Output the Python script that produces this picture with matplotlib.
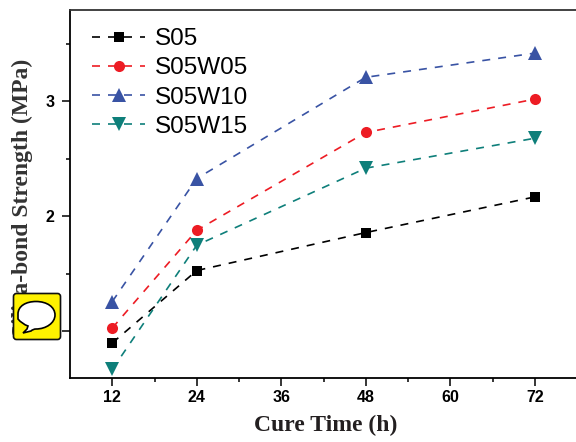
import matplotlib
matplotlib.use('Agg')
import matplotlib.pyplot as plt
from matplotlib.patches import FancyBboxPatch, PathPatch
from matplotlib.path import Path

time = [12, 24, 48, 72]
s05 = [0.90, 1.53, 1.86, 2.17]
s05w05 = [1.03, 1.88, 2.73, 3.02]
s05w10 = [1.26, 2.33, 3.21, 3.42]
s05w15 = [0.67, 1.75, 2.42, 2.68]

labels = ['S05', 'S05W05', 'S05W10', 'S05W15']
colors = ['#000000', '#ed1c24', '#3953a4', '#0e7f7a']
markers = ['s', 'o', '^', 'v']
msizes = [7, 8, 10.5, 10.5]
xticks = [12, 24, 36, 48, 60, 72]
yticks = [1, 2, 3]

W, H = 576, 442
fig = plt.figure(figsize=(W/100, H/100), dpi=100)
ax = fig.add_axes([70/W, 1-377.5/H, (W-70)/W, (377.5-10)/H])

for y, lab, c, m, ms in zip([s05, s05w05, s05w10, s05w15], labels, colors, markers, msizes):
    ax.plot(time, y, color=c, marker=m, ms=ms, mew=0, lw=1.2, dashes=(4.8, 4.8), label=lab, clip_on=False)

ax.set_xlim(6, 77.85)
ax.set_ylim(0.6, 3.795)
ax.set_xticks(xticks)
ax.set_xticks([18, 30, 42, 54, 66], minor=True)
ax.set_yticks(yticks)
ax.set_yticks([1.5, 2.5, 3.5], minor=True)
ax.spines['right'].set_visible(False)
for s in ['left', 'bottom', 'top']:
    ax.spines[s].set_linewidth(1.3)
ax.spines['top'].set_color('#333333')
ax.tick_params(which='major', length=6, width=1.1)
ax.tick_params(which='minor', length=3, width=1.1)
ax.tick_params(axis='x', which='major', pad=3)
ax.tick_params(axis='y', which='major', pad=5)
ax.set_xticklabels(xticks, family='Liberation Sans', fontweight='bold', fontsize=11.5)
ax.set_yticklabels(yticks, family='Liberation Sans', fontweight='bold', fontsize=11.5)

ax.set_xlabel('Cure Time (h)', family='Liberation Serif', fontweight='bold', fontsize=17, color='#231f20')
ax.set_ylabel('Silica-bond Strength (MPa)', family='Liberation Serif', fontweight='bold', fontsize=17, color='#333333')
ax.xaxis.set_label_coords((326-70)/(W-70), (377.5-425.5)/367.5, transform=ax.transAxes)
ax.yaxis.set_label_coords((22.5-70)/(W-70), (377.5-198)/367.5, transform=ax.transAxes)
ax.xaxis.label.set_va('center')
ax.yaxis.label.set_va('center')

ax.legend(loc='upper left', bbox_to_anchor=((92-70)/(W-70), (377.5-28)/367.5), frameon=False,
          prop={'family': 'Liberation Sans', 'size': 17.5}, handlelength=2.2, handletextpad=0.37,
          labelspacing=0.30, borderpad=0, borderaxespad=0)

# speech bubble badge on top, in pixel coordinates
ov = fig.add_axes([0, 0, 1, 1], zorder=10)
ov.set_xlim(0, W)
ov.set_ylim(H, 0)
ov.axis('off')
ov.patch.set_alpha(0)
ov.add_patch(FancyBboxPatch((15, 295), 44, 43, boxstyle='round,pad=1.5,rounding_size=3',
                            fc='#fff200', ec='#111111', lw=1.2))
verts = [(23, 333), (27, 329), (28, 326), (28, 326),
         (22, 324), (18, 319), (18, 314),
         (18, 306), (26, 301.5), (36, 301.5),
         (47, 301.5), (55, 307), (55, 315),
         (55, 323), (46, 329), (36, 329),
         (33, 329), (31, 331), (23, 333)]
codes = [Path.MOVETO, Path.LINETO, Path.LINETO, Path.LINETO,
         Path.CURVE3, Path.CURVE3, Path.LINETO,
         Path.CURVE4, Path.CURVE4, Path.CURVE4,
         Path.CURVE4, Path.CURVE4, Path.CURVE4,
         Path.CURVE4, Path.CURVE4, Path.CURVE4,
         Path.CURVE3, Path.CURVE3, Path.CLOSEPOLY]
ov.add_patch(PathPatch(Path(verts, codes), fc='white', ec='black', lw=1.2))

fig.savefig('out.png', dpi=100)
